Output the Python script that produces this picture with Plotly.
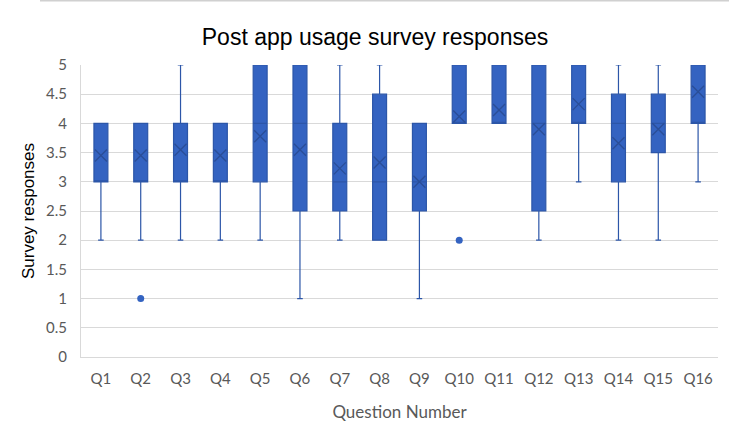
import plotly.graph_objects as go

questions = [f"Q{i}" for i in range(1, 17)]
q1_vals = [3, 3, 3, 3, 3, 2.5, 2.5, 2, 2.5, 4, 4, 2.5, 4, 3, 3.5, 4]
median_vals = [3, 3, 3, 3, 4, 4, 3, 3, 3, 4, 4, 4, 4, 4, 4, 4]
q3_vals = [4, 4, 4, 4, 5, 5, 4, 4.5, 4, 5, 5, 5, 5, 4.5, 4.5, 5]
lower_vals = [2, 2, 2, 2, 2, 1, 2, 2, 1, 4, 4, 2, 3, 2, 2, 3]
upper_vals = [4, 4, 5, 4, 5, 5, 5, 5, 4, 5, 5, 5, 5, 5, 5, 5]
mean_vals = [3.45, 3.45, 3.55, 3.45, 3.78, 3.55, 3.23, 3.33, 3.0, 4.12, 4.23, 3.9, 4.33, 3.66, 3.9, 4.54]
outlier_q = ["Q2", "Q10"]
outlier_vals = [1, 2]

FILL = "#3463C1"
EDGE = "#2C56A8"
DARK = "#2A4E98"

fig = go.Figure()
fig.add_trace(go.Box(
    x=questions, q1=q1_vals, median=median_vals, q3=q3_vals,
    lowerfence=lower_vals, upperfence=upper_vals,
    fillcolor=FILL, line=dict(color=EDGE, width=1.2),
    whiskerwidth=0.4, showlegend=False, hoverinfo="skip",
))
fig.add_trace(go.Scatter(
    x=questions, y=mean_vals, mode="markers",
    marker=dict(symbol="x-thin", size=12, line=dict(color=DARK, width=1.4), color=DARK),
    showlegend=False, hoverinfo="skip",
))
fig.add_trace(go.Scatter(
    x=outlier_q, y=outlier_vals, mode="markers",
    marker=dict(symbol="circle", size=7, color=FILL, line=dict(width=0)),
    showlegend=False, hoverinfo="skip",
))

tick_font = dict(family="Lato, 'Noto Sans', sans-serif", size=15, color="#595959")

fig.update_layout(
    width=729, height=438,
    margin=dict(l=81, r=11, t=65, b=81),
    paper_bgcolor="white", plot_bgcolor="white",
    boxgap=0.5,
    title=dict(text="Post app usage survey responses", x=375/729, xref="container", xanchor="center",
               y=1 - 37/438, yref="container", yanchor="middle",
               font=dict(family="'Liberation Sans', Arial, sans-serif", size=23, color="#000000")),
    xaxis=dict(
        type="category", categoryorder="array", categoryarray=questions,
        range=[-0.5, 15.5],
        tickfont=tick_font, showgrid=False, showline=True, linecolor="#D9D9D9", linewidth=1,
        ticks="outside", ticklen=8, tickcolor="rgba(0,0,0,0)",
        title=dict(text="Question Number", font=dict(family="Lato, 'Noto Sans', sans-serif", size=17, color="#595959"), standoff=20),
    ),
    yaxis=dict(
        range=[0, 5], dtick=0.5, tick0=0,
        tickfont=tick_font, showgrid=True, gridcolor="#D9D9D9", gridwidth=1,
        zeroline=False, showline=True, linecolor="#D9D9D9", linewidth=1,
        ticks="outside", ticklen=10, tickcolor="rgba(0,0,0,0)",
        title=dict(text="Survey responses", font=dict(family="'Liberation Sans', Arial, sans-serif", size=17, color="#000000"), standoff=7),
    ),
    shapes=[dict(type="line", xref="paper", yref="paper",
                 x0=(40 - 81) / 637, x1=(729 - 81) / 637, y0=(357 - 0.5) / 292, y1=(357 - 0.5) / 292,
                 line=dict(color="#D0D0D0", width=2))],
)

fig.write_html("out.html")
